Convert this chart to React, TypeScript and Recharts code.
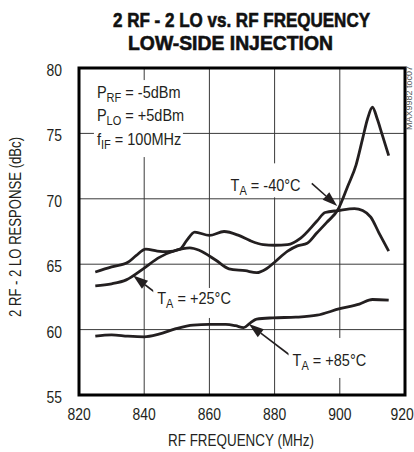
import { CartesianGrid, Line, LineChart, ReferenceArea, ReferenceDot, ReferenceLine, XAxis, YAxis } from "recharts";

const xTicks = [820, 840, 860, 880, 900, 920];
const yTicks = [55, 60, 65, 70, 75, 80];

// TA = -40°C
const freqCold = [825, 830, 835, 837.5, 840.5, 844, 847, 851, 853, 855.5, 860, 864.5, 869, 872.5, 876.5, 880, 884, 888, 893, 895.5, 899.5, 904.5, 907, 909.5, 912, 915];
const respCold = [64.4, 64.8, 65.15, 65.65, 66.15, 66.0, 65.95, 66.15, 66.8, 67.45, 67.2, 67.5, 67.2, 66.8, 66.5, 66.45, 66.5, 67.0, 68.3, 68.95, 69.1, 69.25, 69.1, 68.6, 67.4, 66.0];

// TA = +25°C
const freqRoom = [825, 830, 834.5, 840, 844.5, 849.5, 854, 857, 862, 866, 871, 874.5, 877.5, 880, 884, 887, 890, 893, 896, 899.5, 902.5, 905, 907, 908.5, 910, 911.5, 913, 915];
const respRoom = [63.35, 63.5, 63.8, 64.7, 65.5, 66.05, 66.25, 66.05, 65.3, 64.65, 64.5, 64.35, 64.65, 65.15, 66.0, 66.4, 66.6, 67.4, 68.2, 69.2, 71.0, 72.6, 74.6, 76.1, 77.0, 76.1, 74.9, 73.3];

// TA = +85°C
const freqHot = [825, 830, 835, 840, 844.5, 849.5, 855, 860, 865, 868, 870.5, 872.5, 874.5, 879.5, 886.5, 893, 900, 906, 910, 915];
const respHot = [59.5, 59.6, 59.5, 59.45, 59.65, 60.05, 60.35, 60.4, 60.4, 60.3, 60.15, 60.5, 60.8, 60.9, 60.95, 61.1, 61.6, 61.95, 62.3, 62.25];

const INK = "#231f20";
const FONT = "'Liberation Sans', Arial, sans-serif";
const NARROW = 0.84; // squeeze to mimic Helvetica Narrow

const toPoints = (fs: number[], vs: number[]) => fs.map((f, i) => ({ f, v: vs[i] }));

const XTick = ({ x, y, payload }: any) => (
    <text transform={`translate(${x},${y + 25}) scale(0.82,1)`} textAnchor="middle" fontFamily={FONT} fontSize={17} fill={INK}>
        {payload.value}
    </text>
);

const YTick = ({ x, y, payload }: any) => (
    <text transform={`translate(${x - 17},${y + 8}) scale(0.82,1)`} textAnchor="end" fontFamily={FONT} fontSize={17} fill={INK}>
        {payload.value}
    </text>
);

const arrowShape = (p: any) => {
    const { x1, y1, x2, y2 } = p;
    const len = Math.hypot(x2 - x1, y2 - y1) || 1;
    const ux = (x2 - x1) / len, uy = (y2 - y1) / len;
    const hl = 15, hw = 5;
    const bx = x2 - ux * hl, by = y2 - uy * hl;
    return (
        <g>
            <line x1={x1} y1={y1} x2={bx} y2={by} stroke={INK} strokeWidth={1.6} />
            <polygon points={`${x2},${y2} ${bx - uy * hw},${by + ux * hw} ${bx + uy * hw},${by - ux * hw}`} fill={INK} />
        </g>
    );
};

const SubText = ({ x, y, main, sub, rest }: { x: number; y: number; main: string; sub: string; rest: string }) => (
    <text transform={`translate(${x},${y}) scale(0.88,1)`} fontFamily={FONT} fontSize={16.5} fill={INK}>
        <tspan>{main}</tspan>
        <tspan dy={4} fontSize={12.5}>{sub}</tspan>
        <tspan dy={-4}>{rest}</tspan>
    </text>
);

const tempLabel = (temp: string, box: number[]) => (p: any) => (
    <g>
        <rect x={p.cx + box[0]} y={p.cy + box[1]} width={box[2]} height={box[3]} fill="#fff" />
        <SubText x={p.cx} y={p.cy} main="T" sub="A" rest={` = ${temp}`} />
    </g>
);

const conditions = (p: any) => (
    <g>
        <rect x={p.cx - 3} y={p.cy - 17.5} width={89} height={77} fill="#fff" />
        <SubText x={p.cx} y={p.cy} main="P" sub="RF" rest=" = -5dBm" />
        <SubText x={p.cx} y={p.cy + 23.5} main="P" sub="LO" rest=" = +5dBm" />
        <SubText x={p.cx} y={p.cy + 47} main="f" sub="IF" rest=" = 100MHz" />
    </g>
);

export default function App() {
    const cold = toPoints(freqCold, respCold);
    const room = toPoints(freqRoom, respRoom);
    const hot = toPoints(freqHot, respHot);

    return (
        <div style={{ position: "absolute", left: 0, top: 0, width: 414, height: 452, background: "#fff" }}>
            <LineChart width={414} height={452} margin={{ top: 68, right: 9, bottom: 0, left: 0 }}>
                <CartesianGrid stroke="#3a3a3a" strokeWidth={1} />
                <XAxis dataKey="f" type="number" domain={[820, 920]} ticks={xTicks} allowDataOverflow
                    axisLine={false} tickLine={false} tickSize={0} tickMargin={0} height={57} tick={XTick} />
                <YAxis type="number" domain={[55, 80]} ticks={yTicks} allowDataOverflow
                    axisLine={false} tickLine={false} tickSize={0} tickMargin={0} width={79} tick={YTick} />
                <ReferenceDot x={825.5} y={77.74} r={0} ifOverflow="visible" shape={conditions} />
                <ReferenceDot x={866.5} y={70.57} r={0} ifOverflow="visible" shape={tempLabel("-40°C", [-4, -28, 83, 34])} />
                <ReferenceDot x={844.0} y={61.96} r={0} ifOverflow="visible" shape={tempLabel("+25°C", [-4, -16, 78, 30])} />
                <ReferenceDot x={885.5} y={57.22} r={0} ifOverflow="visible" shape={tempLabel("+85°C", [-4, -28, 80, 40])} />
                <ReferenceArea x1={820} x2={920} y1={55} y2={80} fill="none" stroke="#000" strokeWidth={3} />
                <Line data={cold} dataKey="v" type="monotone" stroke={INK} strokeWidth={2.8} dot={false} isAnimationActive={false} />
                <Line data={room} dataKey="v" type="monotone" stroke={INK} strokeWidth={2.8} dot={false} isAnimationActive={false} />
                <Line data={hot} dataKey="v" type="monotone" stroke={INK} strokeWidth={2.8} dot={false} isAnimationActive={false} />
                <ReferenceLine segment={[{ x: 891.4, y: 71.18 }, { x: 899.2, y: 69.45 }]} shape={arrowShape} />
                <ReferenceLine segment={[{ x: 843.4, y: 62.82 }, { x: 836.6, y: 64.13 }]} shape={arrowShape} />
                <ReferenceLine segment={[{ x: 884.9, y: 58.0 }, { x: 872.1, y: 60.42 }]} shape={arrowShape} />
            </LineChart>
            <svg width={414} height={452} style={{ position: "absolute", left: 0, top: 0, pointerEvents: "none" }}>
                <text x={113} y={27} textLength={257} lengthAdjust="spacingAndGlyphs" fontFamily={FONT} fontWeight="bold" fontSize={20} fill="#111" stroke="#111" strokeWidth={0.6}>
                    2 RF - 2 LO vs. RF FREQUENCY
                </text>
                <text x={128} y={50} textLength={205} lengthAdjust="spacingAndGlyphs" fontFamily={FONT} fontWeight="bold" fontSize={20} fill="#111" stroke="#111" strokeWidth={0.6}>
                    LOW-SIDE INJECTION
                </text>
                <text transform={`translate(21,227) rotate(-90) scale(0.82,1)`} textAnchor="middle" fontFamily={FONT} fontSize={16} fill={INK}>
                    2 RF - 2 LO RESPONSE (dBc)
                </text>
                <text transform={`translate(241,446) scale(${NARROW},1)`} textAnchor="middle" fontFamily={FONT} fontSize={16} fill={INK}>
                    RF FREQUENCY (MHz)
                </text>
                <text transform="translate(412,98) rotate(-90)" textAnchor="middle" fontFamily={FONT} fontSize={9} fill="#555">
                    MAX9982 toc07
                </text>
            </svg>
        </div>
    );
}
